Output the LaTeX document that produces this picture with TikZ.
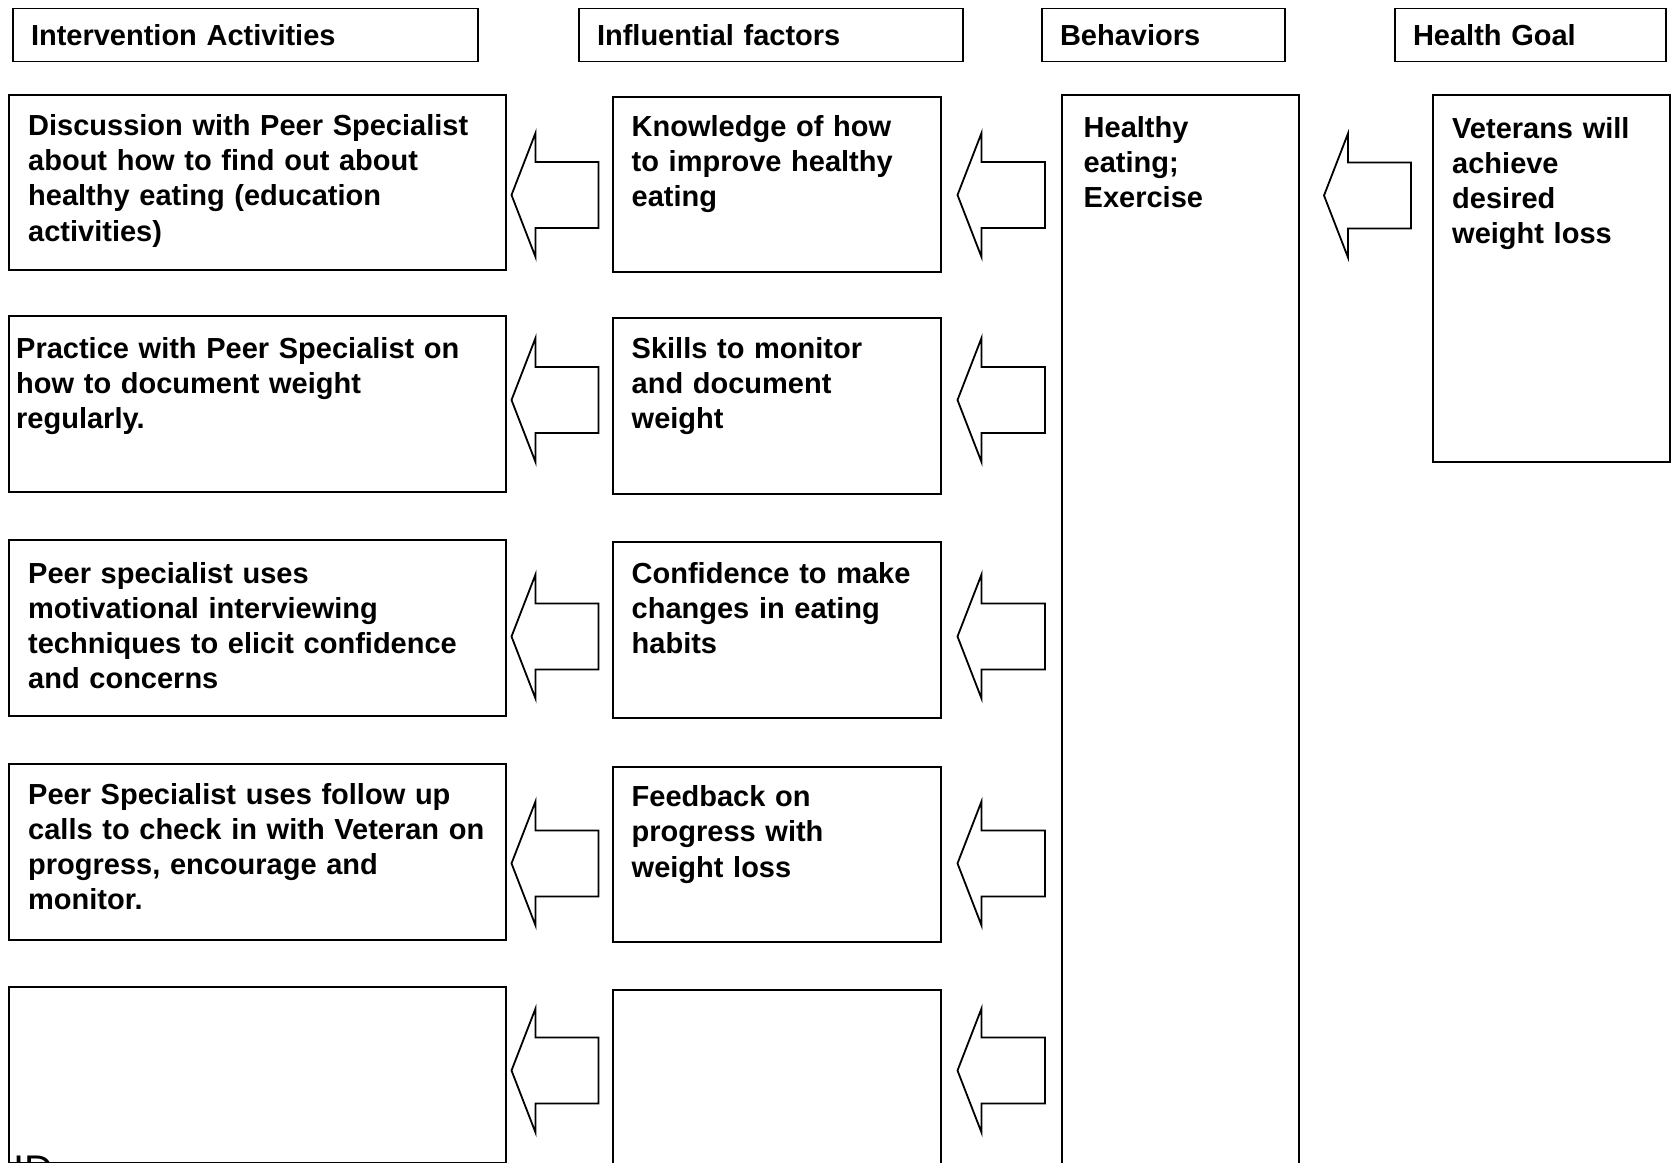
\documentclass[tikz,border=0pt]{standalone}
\usepackage{fontspec}
\setmainfont{Liberation Sans}
\usetikzlibrary{positioning,calc}

\tikzset{
  box/.style={draw, line width=2pt, inner sep=0pt, outer sep=0pt, anchor=north west},
  colone/.style={box, minimum width=497.5pt, minimum height=175.6pt},
  coltwo/.style={box, minimum width=327.5pt, minimum height=175.7pt},
  head/.style={draw, line width=1.6pt, anchor=north west, inner xsep=18pt, inner ysep=0pt, outer sep=0pt,
    minimum height=53pt, align=left, font=\bfseries\fontsize{29}{35}\selectfont},
  txt/.style={anchor=base west, inner sep=0pt, align=left, font=\bfseries\fontsize{29}{35.2}\selectfont},
  fatarrow/.style={draw, line width=1.8pt, line join=miter,
    to path={let \p1=(\tikztostart), \p2=(\tikztotarget) in
      (\x1,\y2+33pt) -- (\x2+24pt,\y2+33pt) -- (\x2+24pt,\y2+62pt) -- (\x2,\y2)
      -- (\x2+24pt,\y2-62pt) -- (\x2+24pt,\y2-33pt) -- (\x1,\y2-33pt) -- cycle}}
}

\begin{document}
\begin{tikzpicture}[x=1pt,y=-1pt]
\useasboundingbox (0,0) rectangle (1672,1162);
\clip (0,0) rectangle (1672,1162);

% column headings
\node[head, text width=429pt] (hia)  at (13,8.5)   {Intervention Activities};
\node[head, text width=348pt] (hif)  at (579,8.5)  {Influential factors};
\node[head, text width=207pt] (hbeh) at (1042,8.5) {Behaviors};
\node[head, text width=235pt] (hgoal) at (1395,8.5) {Health Goal};

% intervention activities
\node[colone]                 (a1) at (8.5,94.5) {};
\node[colone, below=46.1pt of a1] (a2) {};
\node[colone, below=48.5pt of a2] (a3) {};
\node[colone, below=48.2pt of a3] (a4) {};
\node[colone, below=47.5pt of a4] (a5) {};

% influential factors
\node[coltwo]                 (f1) at (613,96.5) {};
\node[coltwo, below=46.1pt of f1] (f2) {};
\node[coltwo, below=48.3pt of f2] (f3) {};
\node[coltwo, below=48.6pt of f3] (f4) {};
\node[coltwo, below=47.4pt of f4] (f5) {};

% behaviors and goal
\node[box, minimum width=237pt, minimum height=1100pt] (beh)  at (1062,95) {};
\node[box, minimum width=237pt, minimum height=367pt]  (goal) at (1433,95) {};

% texts
\node[txt, text width=480pt] (a1txt) at ([shift={(19.5,41)}]a1.north west)
  {Discussion with Peer Specialist\\about how to find out about\\healthy eating (education\\activities)};
\node[txt, text width=480pt] (a2txt) at ([shift={(7.5,42)}]a2.north west)
  {Practice with Peer Specialist on\\how to document weight\\regularly.};
\node[txt, text width=480pt] (a3txt) at ([shift={(19.5,43)}]a3.north west)
  {Peer specialist uses\\motivational interviewing\\techniques to elicit confidence\\and concerns};
\node[txt, text width=480pt] (a4txt) at ([shift={(19.5,40)}]a4.north west)
  {Peer Specialist uses follow up\\calls to check in with Veteran on\\progress, encourage and\\monitor.};

\node[txt, text width=310pt] (f1txt) at ([shift={(18.5,40)}]f1.north west)
  {Knowledge of how\\to improve healthy\\eating};
\node[txt, text width=310pt] (f2txt) at ([shift={(18.5,40)}]f2.north west)
  {Skills to monitor\\and document\\weight};
\node[txt, text width=310pt] (f3txt) at ([shift={(18.5,41)}]f3.north west)
  {Confidence to make\\changes in eating\\habits};
\node[txt, text width=310pt] (f4txt) at ([shift={(18.5,40)}]f4.north west)
  {Feedback on\\progress with\\weight loss};

\node[txt, text width=210pt] (behtxt) at ([shift={(21.5,42)}]beh.north west)
  {Healthy\\eating;\\Exercise};
\node[txt, text width=215pt] (goaltxt) at ([shift={(19,43)}]goal.north west)
  {Veterans will\\achieve\\desired\\weight loss};

\node[txt, font=\fontsize{40}{48}\selectfont] (idtxt) at (13,1183.5) {ID};

% block arrows
\draw[fatarrow] ([xshift=-14.5pt]f1.west) to ([shift={(5.5,100.5)}]a1.north east);
\draw[fatarrow] ([xshift=-14.5pt]f2.west) to ([shift={(5.5,83.8)}]a2.north east);
\draw[fatarrow] ([xshift=-14.5pt]f3.west) to ([shift={(5.5,96.2)}]a3.north east);
\draw[fatarrow] ([xshift=-14.5pt]f4.west) to ([shift={(5.5,99.3)}]a4.north east);
\draw[fatarrow] ([xshift=-14.5pt]f5.west) to ([shift={(5.5,83.3)}]a5.north east);

\draw[fatarrow] ([xshift=-17pt]beh.west) to ([shift={(17,98.5)}]f1.north east);
\draw[fatarrow] ([xshift=-17pt]beh.west) to ([shift={(17,81.7)}]f2.north east);
\draw[fatarrow] ([xshift=-17pt]beh.west) to ([shift={(17,94.2)}]f3.north east);
\draw[fatarrow] ([xshift=-17pt]beh.west) to ([shift={(17,96.8)}]f4.north east);
\draw[fatarrow] ([xshift=-17pt]beh.west) to ([shift={(17,80.8)}]f5.north east);

\draw[fatarrow] ([xshift=-22pt]goal.west) to ([shift={(25,100.5)}]beh.north east);
\end{tikzpicture}
\end{document}
